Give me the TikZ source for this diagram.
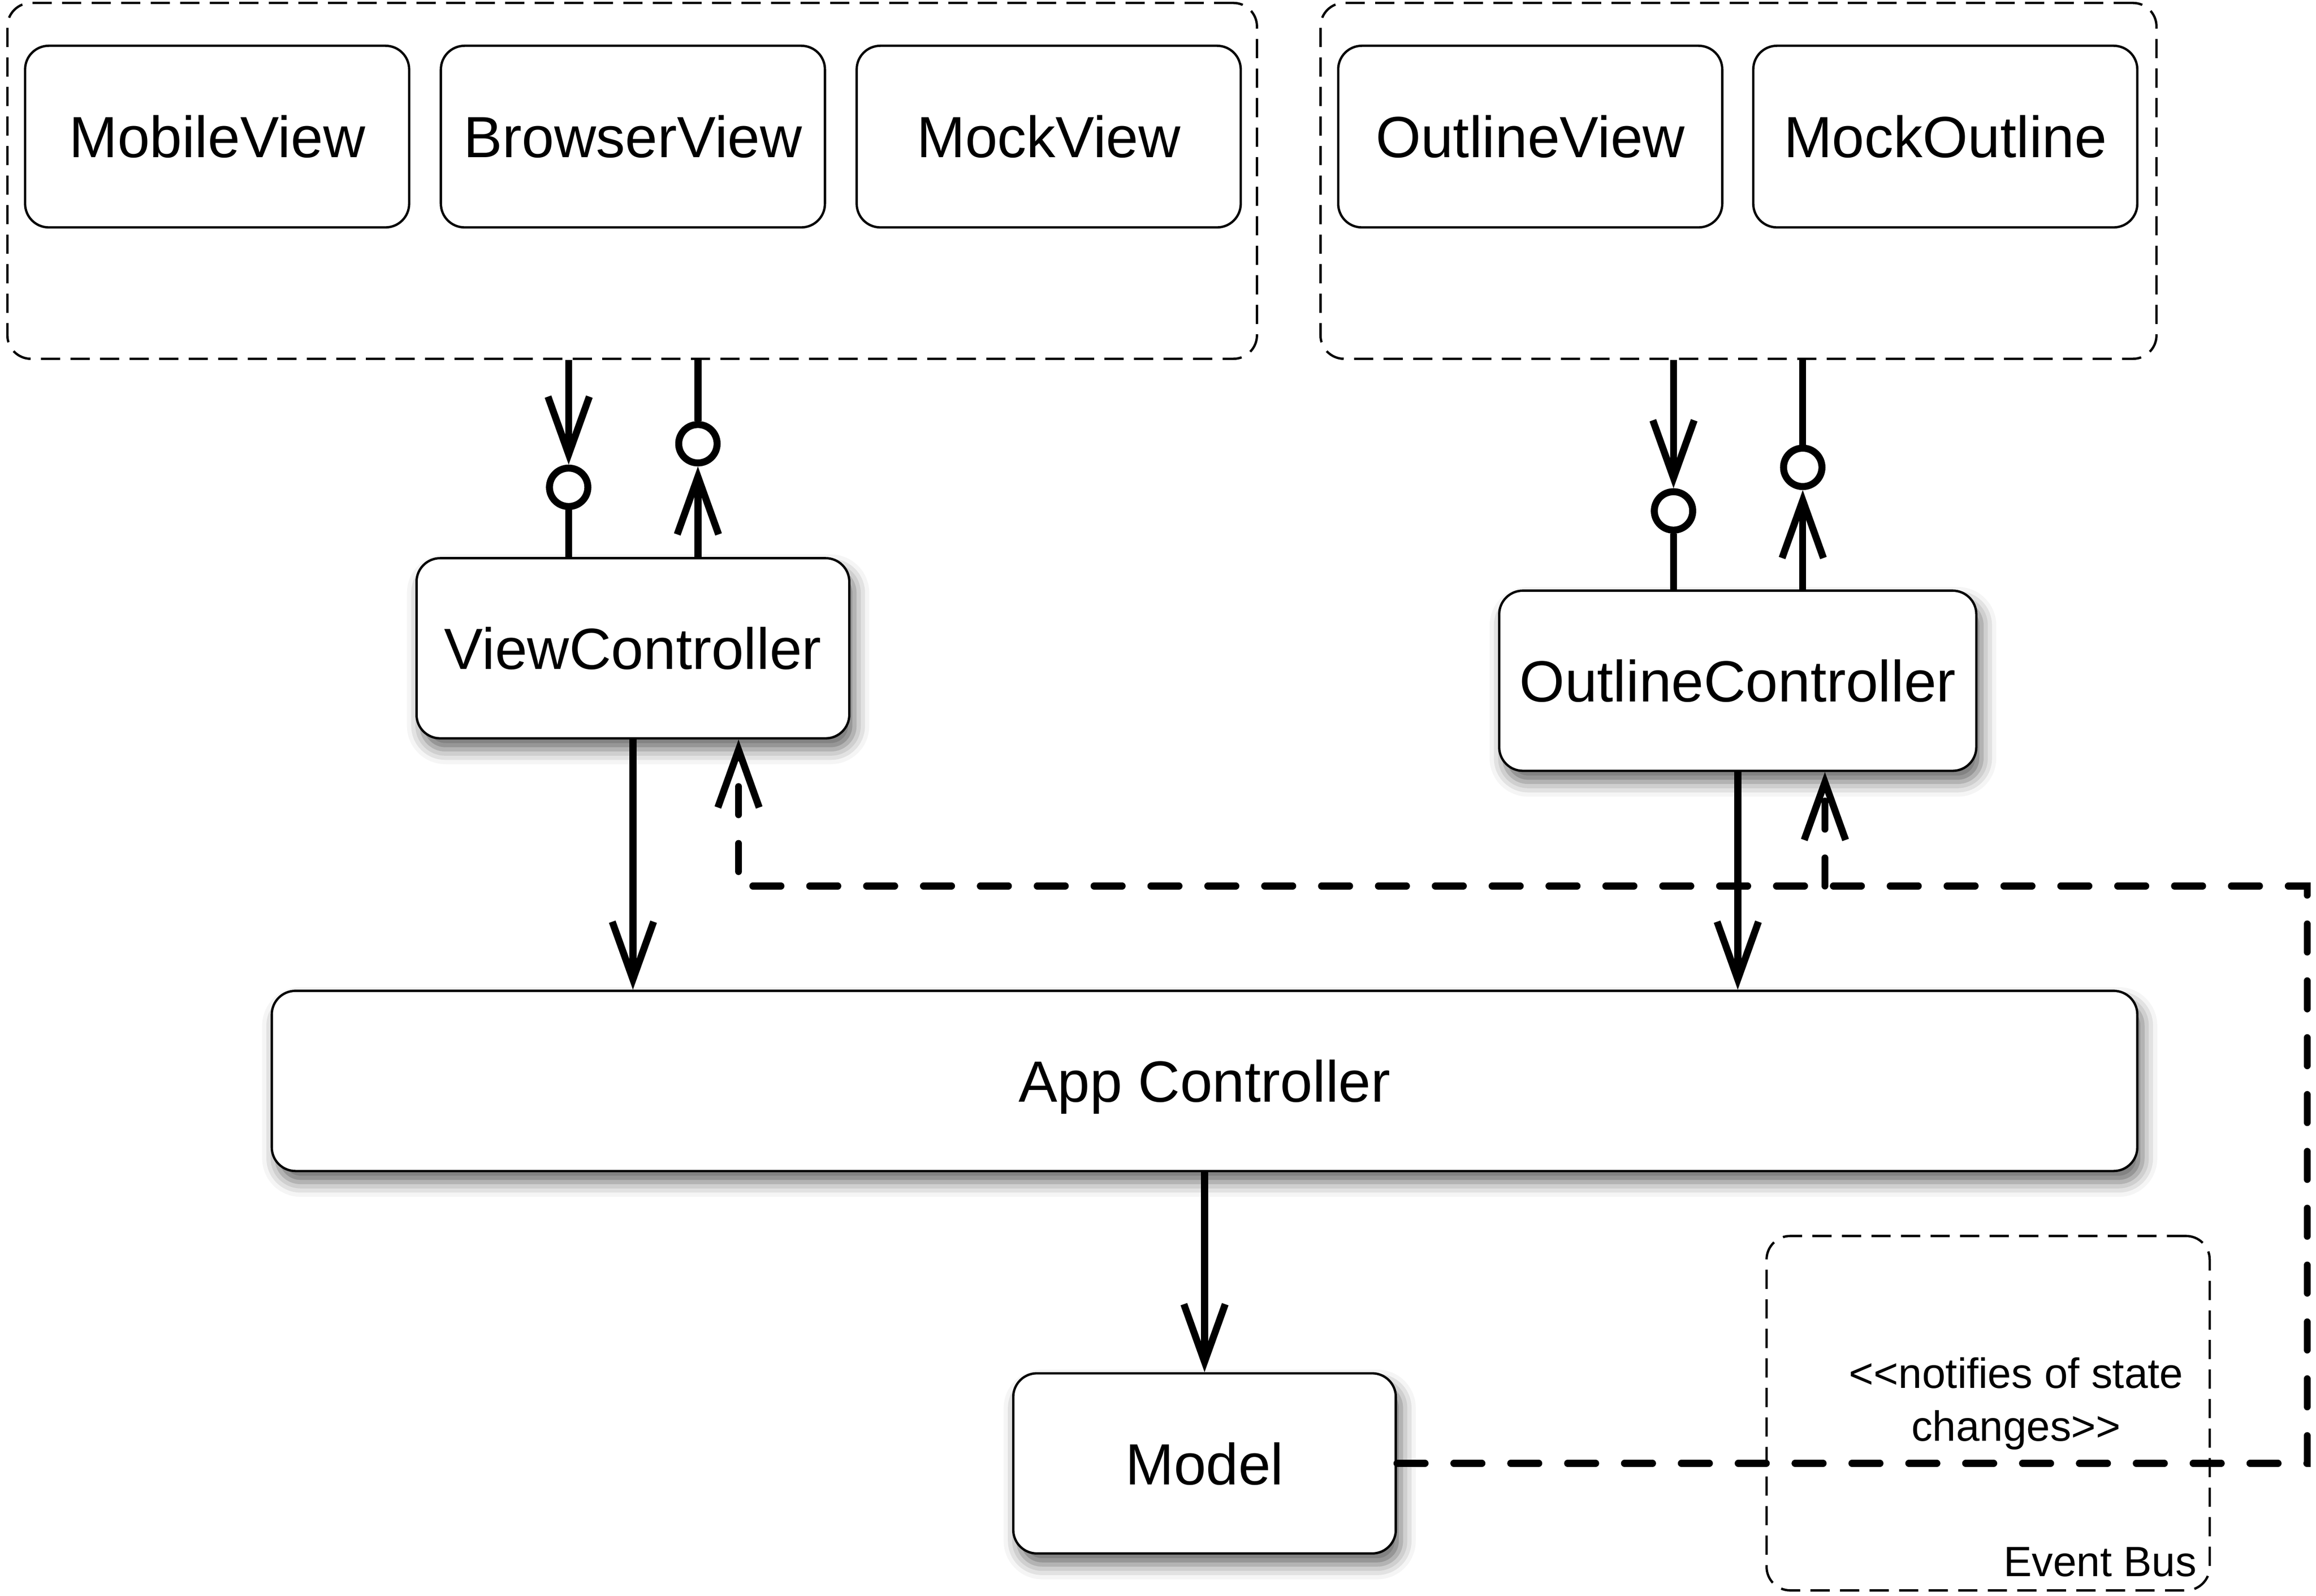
\documentclass[tikz,border=0pt]{standalone}
\usepackage{fontspec}
\setmainfont{Liberation Sans}[Ligatures=TeXOff]
\usetikzlibrary{arrows.meta,shadows.blur}

\begin{document}
\begin{tikzpicture}[
	every node/.style={font=\fontsize{22.4}{27}\selectfont},
	box/.style={draw, line width=0.9pt, rounded corners=0.32cm, fill=white, minimum width=5.2cm, minimum height=2.46cm, inner sep=0pt, text depth=0pt},
	shade/.style={blur shadow={shadow xshift=0.07cm, shadow yshift=-0.15cm, shadow blur radius=0.2cm, shadow opacity=60}},
	group/.style={draw, line width=0.9pt, dash pattern=on 0.26cm off 0.14cm, rounded corners=0.32cm, inner sep=0pt},
	ball/.style={circle, draw, line width=2.7pt, fill=white, minimum size=0.52cm, inner sep=0pt},
	link/.style={line width=2.7pt},
	tip/.style={-{Straight Barb[length=0.78cm,width=0.56cm,sharp]}},
	notify/.style={line width=2.7pt, line cap=round, dash pattern=on 0.38cm off 0.39cm},
	small/.style={font=\fontsize{16.3}{20.5}\selectfont, inner sep=0pt}
	]
	\useasboundingbox (0,0) rectangle (31.36,21.61);
	
	%View groups
	\node[group, minimum width=16.92cm, minimum height=4.82cm] (views) at (8.56,19.16) {};
	\node[group, minimum width=11.32cm, minimum height=4.82cm] (outlines) at (23.54,19.16) {};
	\node[box] (mobile) at (2.94,19.76) {MobileView};
	\node[box] (browser) at (8.57,19.76) {BrowserView};
	\node[box] (mock) at (14.2,19.76) {MockView};
	\node[box] (outline) at (20.72,19.76) {OutlineView};
	\node[box] (mockoutline) at (26.34,19.76) {MockOutline};
	
	%Controllers
	\node[box, shade, minimum width=5.86cm, minimum height=2.44cm] (vc) at (8.57,12.83) {ViewController};
	\node[box, shade, minimum width=6.46cm, minimum height=2.44cm] (oc) at (23.53,12.39) {OutlineController};
	\node[box, shade, minimum width=25.26cm, minimum height=2.44cm] (app) at (16.31,6.97) {App Controller};
	\node[box, shade, minimum width=5.18cm, minimum height=2.44cm] (model) at (16.31,1.79) {Model};
	
	%Event bus
	\node[group, minimum width=6cm, minimum height=4.8cm] (bus) at (26.92,2.47) {};
	\node[small, align=center] (note) at (27.3,2.6) {<<notifies of state\\changes>>};
	\node[small, anchor=base east] (buslabel) at (29.75,0.26) {Event Bus};
	
	%Interfaces
	\node[ball] (vcballA) at (7.7,15.01) {};
	\node[ball] (vcballB) at (9.45,15.6) {};
	\node[ball] (ocballA) at (22.66,14.69) {};
	\node[ball] (ocballB) at (24.41,15.28) {};
	
	\draw[link, tip] (vcballA |- views.south) -- (vcballA);
	\draw[link] (vcballA) -- (vcballA |- vc.north);
	\draw[link] (vcballB |- views.south) -- (vcballB);
	\draw[link, tip] (vcballB |- vc.north) -- (vcballB);
	\draw[link, tip] (ocballA |- outlines.south) -- (ocballA);
	\draw[link] (ocballA) -- (ocballA |- oc.north);
	\draw[link] (ocballB |- outlines.south) -- (ocballB);
	\draw[link, tip] (ocballB |- oc.north) -- (ocballB);
	
	%Calls
	\draw[link, tip] (vc) -- (vc |- app.north);
	\draw[link, tip] (oc) -- (oc |- app.north);
	\draw[link, tip] (app) -- (model);
	
	%Notifications
	\coordinate (busturn) at (31.24,9.61);
	\coordinate (vctap) at (10,9.61);
	\coordinate (octap) at (24.71,9.61);
	\draw[notify, tip] (model) -- (model -| busturn) -- (busturn) -- (vctap) -- (vctap |- vc.south);
	\draw[notify, tip] (octap) -- (octap |- oc.south);
	
\end{tikzpicture}
\end{document}
